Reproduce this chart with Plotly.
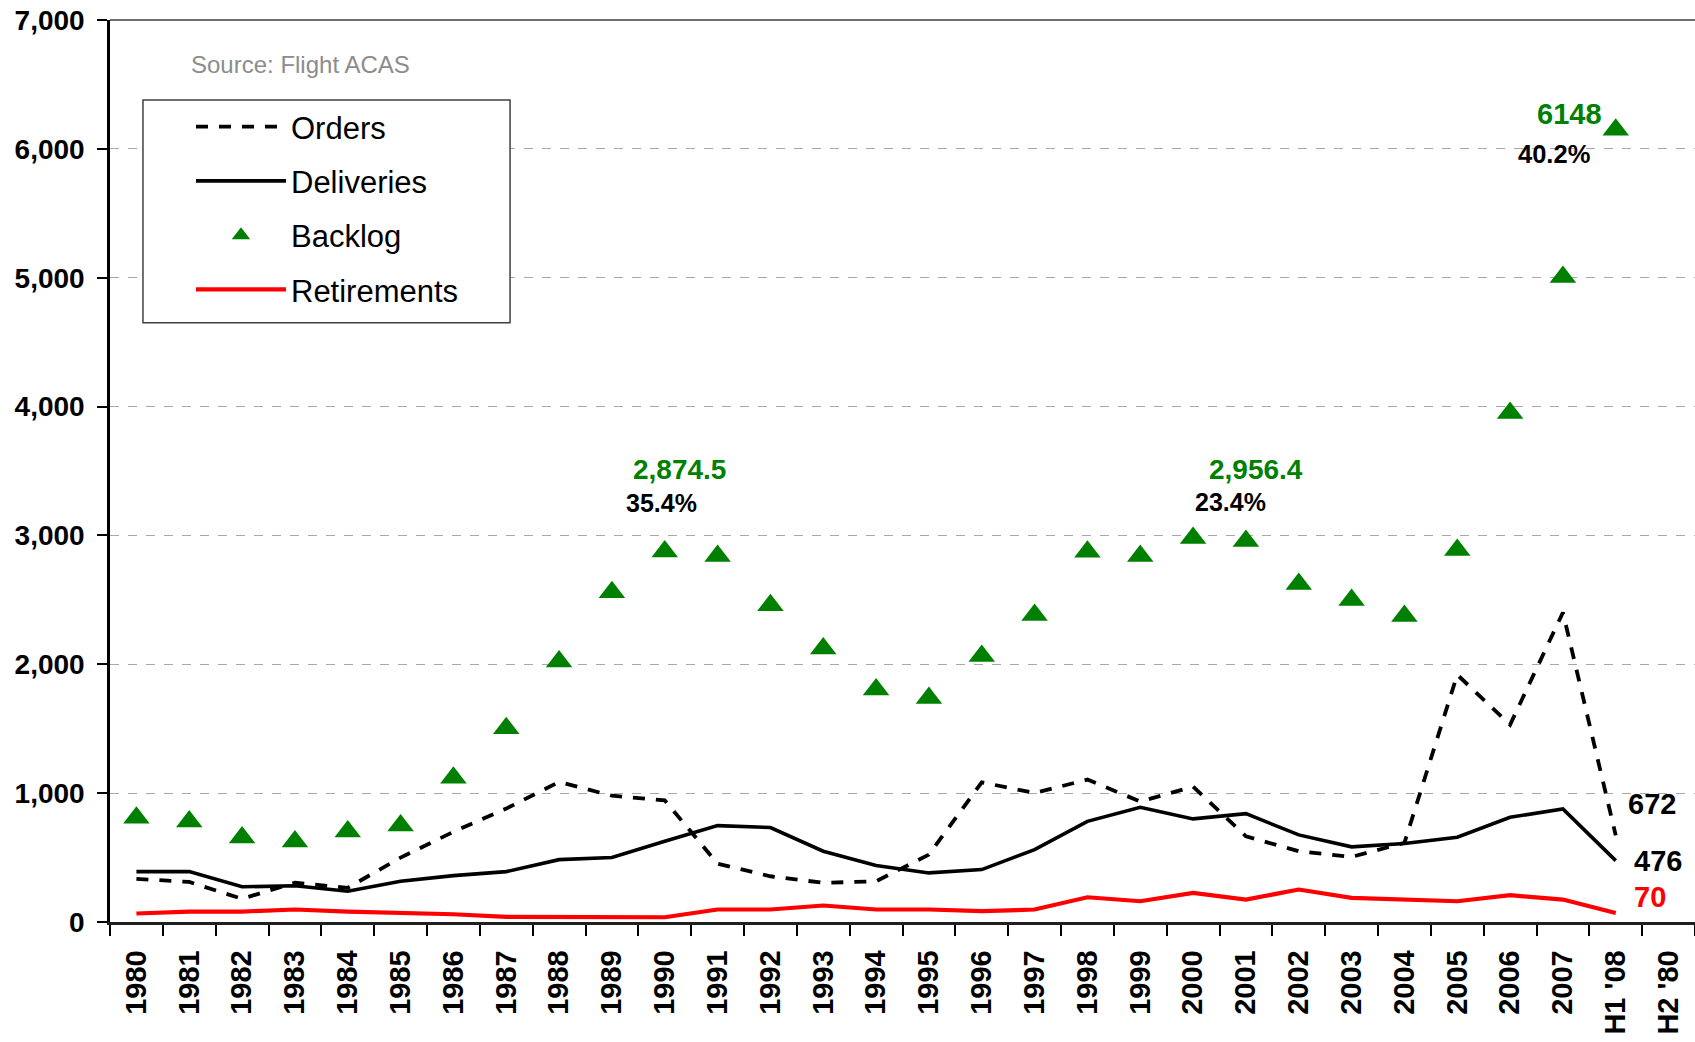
import plotly.graph_objects as go

# ─── Data ─────────────────────────────────────────────────────────────────────
categories = [str(y) for y in range(1980, 2008)] + ["H1 '08", "H2 '80"]

orders = [335, 311, 180, 305, 265, 500, 700, 880, 1087, 980,
          944, 453, 355, 304, 316, 523, 1084, 1001, 1105, 935,
          1050, 665, 549, 505, 614, 1919, 1531, 2402, 672]

deliveries = [391, 391, 273, 281, 239, 316, 360, 391, 484, 500,
              626, 748, 733, 549, 438, 381, 407, 562, 781, 890,
              800, 841, 676, 583, 609, 658, 813, 877, 476]

backlog = [809, 779, 655, 624, 702, 748, 1120, 1503, 2022, 2559,
           2874.5, 2841, 2458, 2123, 1805, 1738, 2064, 2383, 2874, 2841,
           2980, 2956.4, 2624, 2499, 2375, 2886, 3950, 5006, 6148]

retirements = [66, 81, 81, 97, 81, 71, 60, 40, 40, 40,
               37, 97, 97, 128, 97, 97, 84, 97, 192, 161,
               226, 174, 252, 187, 174, 161, 208, 174, 70]

FONT = "Liberation Sans, Arial, sans-serif"
GREEN = "#008000"
RED = "#FF0000"

n = len(orders)
x = categories[:n]

fig = go.Figure()
fig.add_trace(go.Scatter(x=x, y=orders, name="Orders", mode="lines", legendgroup="o",
                         line=dict(color="black", width=3.8, dash="12px,11px")))
fig.add_trace(go.Scatter(x=x, y=deliveries, name="Deliveries", mode="lines", legendgroup="d",
                         line=dict(color="black", width=3.6)))
fig.add_trace(go.Scatter(x=x, y=backlog, name="Backlog", mode="markers", legendgroup="b",
                         marker=dict(symbol="triangle-up", size=23, color=GREEN)))
fig.add_trace(go.Scatter(x=x, y=retirements, name="Retirements", mode="lines", legendgroup="r",
                         line=dict(color=RED, width=4.2)))


# ─── Annotations ──────────────────────────────────────────────────────────────
def label(cat, yv, text, color, size, dx, dy):
    # category axis: use index so "1990" isn't read as a number
    fig.add_annotation(x=categories.index(cat), y=yv, text=f"<b>{text}</b>", showarrow=False,
                       xshift=dx, yshift=dy, font=dict(family=FONT, size=size, color=color))


label("1990", backlog[10], "2,874.5", GREEN, 28, 15, 82)
label("1990", backlog[10], "35.4%", "black", 25, -3, 49)
label("2001", backlog[21], "2,956.4", GREEN, 28, 10, 72)
label("2001", backlog[21], "23.4%", "black", 25, -15, 39)
label("H1 '08", backlog[-1], "6148", GREEN, 29, -46, 16)
label("H1 '08", backlog[-1], "40.2%", "black", 25.5, -62, -24)
label("H1 '08", orders[-1], "672", "black", 29, 36, 31)
label("H1 '08", deliveries[-1], "476", "black", 29, 42, 0)
label("H1 '08", retirements[-1], "70", RED, 29, 34, 16)

fig.add_annotation(xref="paper", yref="paper", x=0.1205, y=0.951, xanchor="center", yanchor="middle",
                   text="Source: Flight ACAS", showarrow=False,
                   font=dict(family=FONT, size=24, color="#8C8C8C"))

# top border + legend box
fig.add_shape(type="line", xref="paper", yref="paper", x0=0, x1=1, y0=1, y1=1,
              line=dict(color="#404040", width=1.5))
fig.add_shape(type="rect", xref="paper", yref="paper", x0=0.0208, x1=0.2524, y0=0.6643, y1=0.9114,
              line=dict(color="#404040", width=1.5), fillcolor="white")

fig.update_layout(
    width=1695, height=1042,
    margin=dict(l=110, r=0, t=20, b=120),
    plot_bgcolor="white", paper_bgcolor="white",
    font=dict(family=FONT, color="black"),
    showlegend=True,
    legend=dict(
        x=0.0511, y=0.9114, xanchor="left", yanchor="top",
        bgcolor="rgba(0,0,0,0)", borderwidth=0,
        font=dict(family=FONT, size=31, color="black"),
        traceorder="grouped", tracegroupgap=11, itemwidth=90,
    ),
    xaxis=dict(
        type="category", categoryorder="array", categoryarray=categories,
        range=[-0.5, len(categories) - 0.5],
        tickson="boundaries", ticks="outside", ticklen=11, tickwidth=2, tickcolor="black",
        showline=True, linecolor="#202020", linewidth=2.5,
        showgrid=False, tickangle=-90, ticklabelstandoff=14,
        tickfont=dict(family=FONT, size=29, color="black", weight="bold"),
    ),
    yaxis=dict(
        range=[0, 7000], dtick=1000, tickformat=",",
        ticks="outside", ticklen=10, tickwidth=2, tickcolor="black",
        showline=True, linecolor="black", linewidth=2.5,
        showgrid=True, gridcolor="#A8A8A8", griddash="dash", gridwidth=1,
        zeroline=False, ticklabelstandoff=7,
        tickfont=dict(family=FONT, size=28, color="black", weight="bold"),
    ),
)

fig.write_html("out.html", config={"displayModeBar": False},
               post_script="document.body.style.margin='0';")
